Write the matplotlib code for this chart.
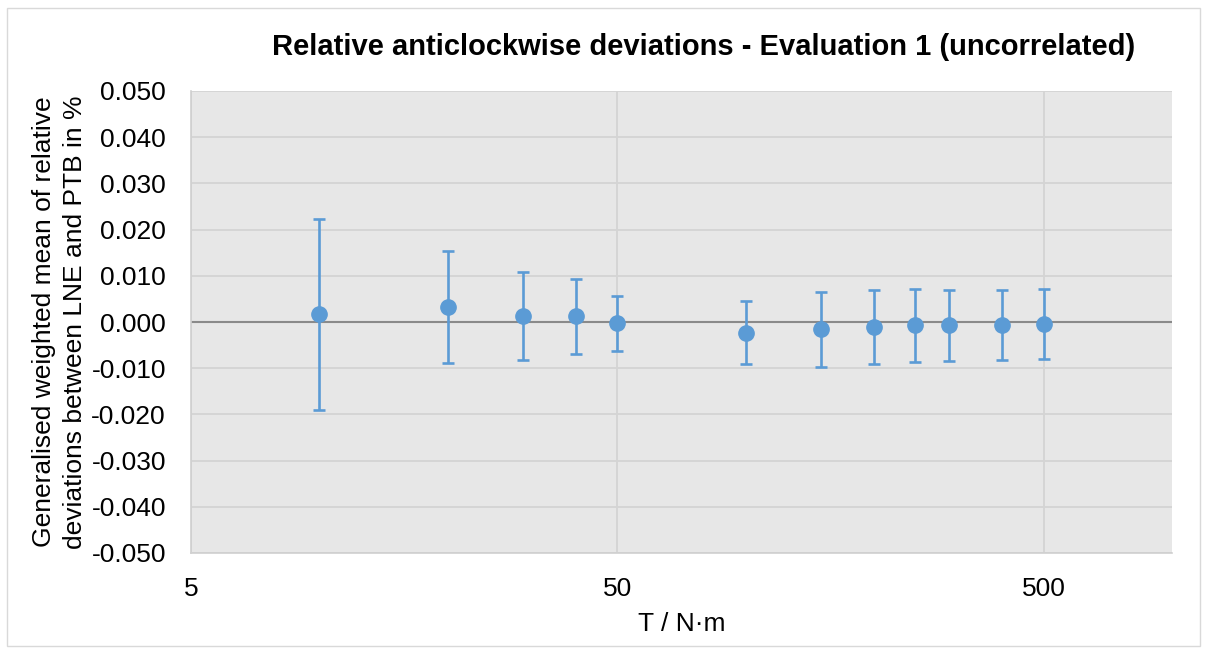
import matplotlib
matplotlib.use("Agg")
import matplotlib.pyplot as plt
from matplotlib.ticker import FixedLocator, NullLocator, FuncFormatter
from matplotlib.patches import Rectangle

plt.rcParams['font.family'] = ['Liberation Sans', 'DejaVu Sans']

torque = [10, 20, 30, 40, 50, 100, 150, 200, 250, 300, 400, 500]
mean_dev = [0.0017, 0.0032, 0.0013, 0.0012, -0.0003, -0.0023, -0.00155, -0.0011, -0.00075, -0.00075, -0.00065, -0.00045]
uncert = [0.0207, 0.01215, 0.00945, 0.0082, 0.0060, 0.0068, 0.00815, 0.0080, 0.00785, 0.00775, 0.00765, 0.00765]
x_ticks = [5, 50, 500]
y_ticks = [-0.05, -0.04, -0.03, -0.02, -0.01, 0.0, 0.01, 0.02, 0.03, 0.04, 0.05]

W, H = 1206, 648
fig = plt.figure(figsize=(W/100, H/100), dpi=100)
fig.patch.set_facecolor('white')
fig.patches.append(Rectangle((7/W, 1 - 646/H), (1200-7)/W, (646-8)/H, transform=fig.transFigure,
                             fill=False, edgecolor='#d9d9d9', linewidth=1))

ax = fig.add_axes([191/W, 1 - 553/H, (1172-191)/W, (553-91)/H])
ax.set_facecolor('#e7e7e7')
ax.set_xscale('log')
ax.set_xlim(5, 1000)
ax.set_ylim(-0.05, 0.05)
ax.xaxis.set_major_locator(FixedLocator(x_ticks))
ax.xaxis.set_minor_locator(NullLocator())
ax.xaxis.set_major_formatter(FuncFormatter(lambda v, p: f"{v:g}"))
ax.yaxis.set_major_locator(FixedLocator(y_ticks))
ax.yaxis.set_major_formatter(FuncFormatter(lambda v, p: f"{v:.3f}"))

ax.grid(True, which='major', color='#d4d4d4', linewidth=1.3)
ax.set_axisbelow(True)
ax.axhline(0, color='#8a8a8a', linewidth=1.5, zorder=1.5)

for s in ['top', 'right']:
    ax.spines[s].set_visible(False)
for s in ['left', 'bottom']:
    ax.spines[s].set_color('#d0d0d0')
    ax.spines[s].set_linewidth(1.2)

ax.tick_params(axis='both', length=0, labelsize=19, colors='black')
ax.tick_params(axis='x', pad=17)
ax.tick_params(axis='y', pad=18)

ax.errorbar(torque, mean_dev, yerr=uncert, fmt='o', color='#5b9bd5', ecolor='#5b9bd5',
            markersize=11, elinewidth=1.9, capsize=4.5, capthick=1.9, zorder=3)

ax.set_xlabel('T / N·m', fontsize=19, labelpad=8)
ax.set_ylabel('Generalised weighted mean of relative\ndeviations between LNE and PTB in %',
              fontsize=19, labelpad=3, linespacing=1.4)

fig.text(272/W, 1 - 55/H, 'Relative anticlockwise deviations - Evaluation 1 (uncorrelated)',
         ha='left', va='baseline', fontsize=21, fontweight='bold')

fig.savefig('out.png', dpi=100, facecolor='white')
